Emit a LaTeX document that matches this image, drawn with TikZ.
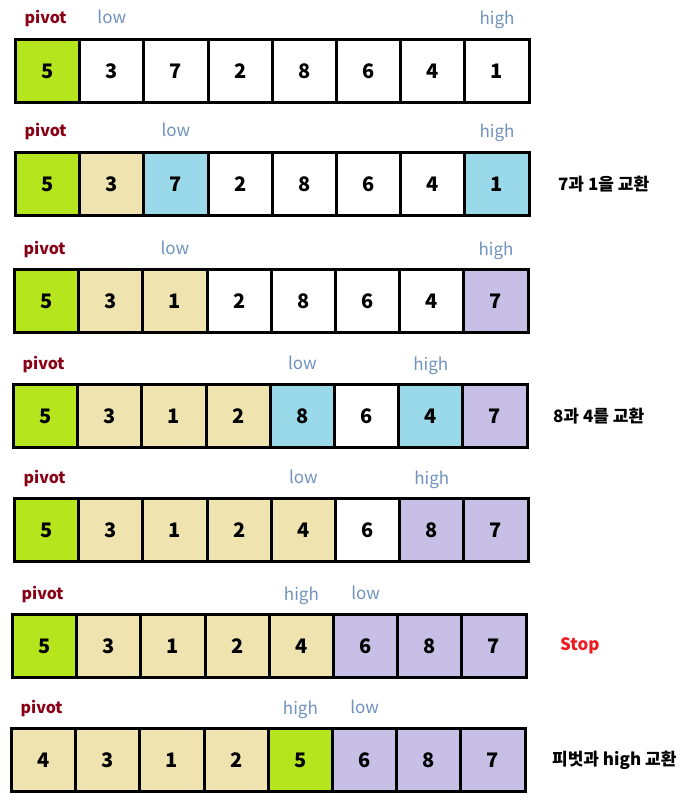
\documentclass[tikz,border=0pt]{standalone}
\usepackage{fontspec}
\setmainfont{Noto Sans CJK KR}
\usetikzlibrary{positioning}

\definecolor{lime}{HTML}{B5E61D}
\definecolor{sand}{HTML}{EFE4B0}
\definecolor{sky}{HTML}{99D9EA}
\definecolor{lilac}{HTML}{C8BFE7}
\definecolor{pivotred}{HTML}{880015}
\definecolor{ptrblue}{HTML}{7092BE}
\definecolor{stopred}{HTML}{ED1C24}

\begin{document}
\begin{tikzpicture}[x=1pt, y=-1pt,
    cell/.style={rectangle, draw=black, line width=3pt, minimum width=64.2pt, minimum height=63pt, inner sep=0pt, font=\bfseries\fontsize{20}{22}\selectfont},
    pivotlbl/.style={anchor=base, text=pivotred, font=\bfseries\fontsize{16}{18}\selectfont},
    ptr/.style={anchor=base, text=ptrblue, font=\fontsize{17}{19}\selectfont},
    note/.style={font=\bfseries\fontsize{17}{19}\selectfont}]
    \useasboundingbox (0,0) rectangle (694,805);

    % the seven rows of the array
    \foreach \r/\ty/\lx/\cells in {
        1/38/14/{5/lime,3/white,7/white,2/white,8/white,6/white,4/white,1/white},
        2/151/14/{5/lime,3/sand,7/sky,2/white,8/white,6/white,4/white,1/sky},
        3/268/13/{5/lime,3/sand,1/sand,2/white,8/white,6/white,4/white,7/lilac},
        4/383/12/{5/lime,3/sand,1/sand,2/sand,8/sky,6/white,4/sky,7/lilac},
        5/497/13/{5/lime,3/sand,1/sand,2/sand,4/sand,6/white,8/lilac,7/lilac},
        6/613/11/{5/lime,3/sand,1/sand,2/sand,4/sand,6/lilac,8/lilac,7/lilac},
        7/727/10/{4/sand,3/sand,1/sand,2/sand,5/lime,6/lilac,8/lilac,7/lilac}}{
        \foreach \v/\c [count=\i] in \cells
            \node[cell, fill=\c] (c\r-\i) at (\lx+1.5+\i*64.2-32.1, \ty+33) {\v};
    }

    % pointers above the cells
    \foreach \r/\lo/\hi in {1/2/8, 2/3/8, 3/3/8, 4/5/7, 5/5/7, 6/6/5, 7/6/5}{
        \node[pivotlbl] (pv\r) at ([xshift=-2pt, yshift=14pt]c\r-1.north) {pivot};
        \node[ptr] (lo\r) at ([yshift=14pt]c\r-\lo.north) {low};
        \node[ptr] (hi\r) at ([yshift=13pt]c\r-\hi.north) {high};
    }

    \node[note, right=24pt of c2-8] (n2) {7과 1을 교환};
    \node[note, right=21pt of c4-8] (n4) {8과 4를 교환};
    \node[note, text=stopred, right=29pt of c6-8] (n6) {Stop};
    \node[note, right=22pt of c7-8] (n7) {피벗과 high 교환};
\end{tikzpicture}
\end{document}
